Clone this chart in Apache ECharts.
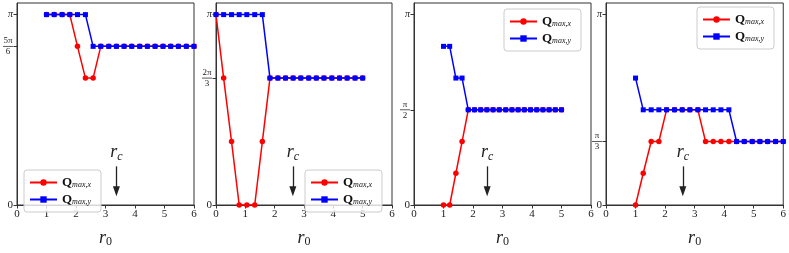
<!DOCTYPE html>
<html><head><meta charset="utf-8">
<script src="https://cdn.jsdelivr.net/npm/echarts@6/dist/echarts.min.js"></script>
<style>html,body{margin:0;padding:0;background:#fff}#c{width:789px;height:253px}</style>
</head><body><div id="c"></div>
<script>
// x samples (r0) for each panel
const xs1 = [1.00,1.26,1.53,1.79,2.05,2.32,2.58,2.84,3.11,3.37,3.63,3.89,4.16,4.42,4.68,4.95,5.21,5.47,5.74,6.00];
const xs2 = [0.00,0.26,0.53,0.79,1.05,1.32,1.58,1.84,2.11,2.37,2.63,2.89,3.16,3.42,3.68,3.95,4.21,4.47,4.74,5.00];
const xs3 = [1.00,1.21,1.42,1.63,1.84,2.05,2.26,2.47,2.68,2.89,3.11,3.32,3.53,3.74,3.95,4.16,4.37,4.58,4.79,5.00];
const xs4 = [1.00,1.26,1.53,1.79,2.05,2.32,2.58,2.84,3.11,3.37,3.63,3.89,4.16,4.42,4.68,4.95,5.21,5.47,5.74,6.00];
// values in units of pi
const qx1 = [1,1,1,1,0.8333,0.6667,0.6667,0.8333,0.8333,0.8333,0.8333,0.8333,0.8333,0.8333,0.8333,0.8333,0.8333,0.8333,0.8333,0.8333];
const qy1 = [1,1,1,1,1,1,0.8333,0.8333,0.8333,0.8333,0.8333,0.8333,0.8333,0.8333,0.8333,0.8333,0.8333,0.8333,0.8333,0.8333];
const qx2 = [1,0.6667,0.3333,0,0,0,0.3333,0.6667,0.6667,0.6667,0.6667,0.6667,0.6667,0.6667,0.6667,0.6667,0.6667,0.6667,0.6667,0.6667];
const qy2 = [1,1,1,1,1,1,1,0.6667,0.6667,0.6667,0.6667,0.6667,0.6667,0.6667,0.6667,0.6667,0.6667,0.6667,0.6667,0.6667];
const qx3 = [0,0,0.1667,0.3333,0.5,0.5,0.5,0.5,0.5,0.5,0.5,0.5,0.5,0.5,0.5,0.5,0.5,0.5,0.5,0.5];
const qy3 = [0.8333,0.8333,0.6667,0.6667,0.5,0.5,0.5,0.5,0.5,0.5,0.5,0.5,0.5,0.5,0.5,0.5,0.5,0.5,0.5,0.5];
const qx4 = [0,0.1667,0.3333,0.3333,0.5,0.5,0.5,0.5,0.5,0.3333,0.3333,0.3333,0.3333,0.3333,0.3333,0.3333,0.3333,0.3333,0.3333,0.3333];
const qy4 = [0.6667,0.5,0.5,0.5,0.5,0.5,0.5,0.5,0.5,0.5,0.5,0.5,0.5,0.3333,0.3333,0.3333,0.3333,0.3333,0.3333,0.3333];
// y tick values (units of pi) and labels
const yTickVals = [[0,0.8333,1],[0,0.6667,1],[0,0.5,1],[0,0.3333,1]];
const yTickLabels = [['0','5π/6','π'],['0','2π/3','π'],['0','π/2','π'],['0','π/3','π']];
const xTicks = [0,1,2,3,4,5,6];
// critical radius r_c per panel
const rc = [3.37, 2.62, 2.48, 2.60];
const seriesNames = ['Qx','Qy'];

const XS = [xs1,xs2,xs3,xs4];
const QX = [qx1,qx2,qx3,qx4];
const QY = [qy1,qy2,qy3,qy4];
const grids = [
  {left:17, top:3, width:177, height:214},
  {left:216, top:3, width:176, height:214},
  {left:414, top:3, width:177, height:214},
  {left:606, top:3, width:178, height:214}
];
const legendPos = [
  {left:24, top:170},
  {left:305, top:170},
  {left:504, top:9},
  {left:697, top:7}
];
const SERIF = "'Liberation Serif','DejaVu Serif',serif";
const frameColor = '#333';
const YMAX = 1.061;

const chart = echarts.init(document.getElementById('c'), null, {renderer:'canvas'});
const option = {
  backgroundColor:'#fff',
  animation:false,
  grid: grids.map(g => Object.assign({show:true, borderColor:frameColor, borderWidth:1, backgroundColor:'transparent'}, g)),
  xAxis: grids.map((g,i) => ({
    gridIndex:i, type:'value', min:0, max:6, interval:1,
    splitLine:{show:false},
    axisLine:{show:true, lineStyle:{color:frameColor, width:1}},
    axisTick:{show:true, length:3.5, lineStyle:{color:frameColor}},
    axisLabel:{color:'#222', fontFamily:SERIF, fontSize:11, margin:4, showMinLabel:true, showMaxLabel:true},
    name:'{r|r}{s|0}', nameLocation:'middle', nameGap:23,
    nameTextStyle:{rich:{
      r:{fontFamily:SERIF, fontStyle:'italic', fontSize:18, color:'#222'},
      s:{fontFamily:SERIF, fontSize:12, color:'#222', padding:[8,0,0,0]}
    }}
  })),
  yAxis: grids.map((g,i) => ({
    gridIndex:i, type:'value', min:0, max:YMAX,
    splitLine:{show:false},
    axisLine:{show:true, lineStyle:{color:frameColor, width:1}},
    axisTick:{show:true, length:3.5, customValues:yTickVals[i], lineStyle:{color:frameColor}},
    axisLabel:{
      customValues:yTickVals[i], margin:4, color:'#222', fontFamily:SERIF, fontSize:11,
      formatter:(v)=>{
        const k = yTickVals[i].indexOf(v);
        const lab = k>=0 ? yTickLabels[i][k] : '';
        if (lab.indexOf('/')>=0){
          const p = lab.split('/');
          return '{n|'+p[0]+'}\n{b| }\n{d|'+p[1]+'}';
        }
        if (lab==='π') return '{p|π}';
        return lab;
      },
      rich:{
        n:{fontFamily:SERIF, fontSize:9, lineHeight:9, align:'center', color:'#222'},
        b:{width:10, height:0.8, lineHeight:2, fontSize:2, backgroundColor:'#333', align:'center'},
        d:{fontFamily:SERIF, fontSize:9, lineHeight:9, align:'center', color:'#222'},
        p:{fontFamily:SERIF, fontStyle:'italic', fontSize:10, color:'#222'}
      }
    }
  })),
  legend: legendPos.map(p => ({
    data: seriesNames, orient:'vertical', left:p.left, top:p.top,
    itemWidth:27, itemHeight:8, itemGap:4,
    padding:[6,10,6,5],
    borderColor:'#ccc', borderWidth:1, borderRadius:3, backgroundColor:'rgba(255,255,255,0.8)',
    selectedMode:false,
    formatter:(n)=> n==='Qx' ? '{q|Q}{s|max,x}' : '{q|Q}{s|max,y}',
    textStyle:{lineHeight:12, rich:{
      q:{fontFamily:SERIF, fontWeight:'bold', fontSize:13, lineHeight:12, color:'#111'},
      s:{fontFamily:SERIF, fontStyle:'italic', fontSize:8, lineHeight:12, color:'#111', padding:[4,0,0,0]}
    }}
  })),
  series: []
};
for (let i=0;i<4;i++){
  option.series.push({
    name:'Qx', type:'line', xAxisIndex:i, yAxisIndex:i,
    data: XS[i].map((x,k)=>[x, QX[i][k]]),
    color:'#ff0000', lineStyle:{width:1.5, color:'#ff0000'},
    symbol:'circle', symbolSize:5.5, itemStyle:{color:'#ff0000'}, z:2
  });
  option.series.push({
    name:'Qy', type:'line', xAxisIndex:i, yAxisIndex:i,
    data: XS[i].map((x,k)=>[x, QY[i][k]]),
    color:'#0000ff', lineStyle:{width:1.5, color:'#0000ff'},
    symbol:'rect', symbolSize:5, itemStyle:{color:'#0000ff'}, z:3,
    markLine:{
      silent:true, symbol:['none','triangle'], symbolSize:[7,10],
      lineStyle:{color:'#222', width:1.3, type:'solid'},
      itemStyle:{color:'#000'},
      label:{show:true, position:'start', distance:4, formatter:'{r|r}{c|c}',
        rich:{
          r:{fontFamily:SERIF, fontStyle:'italic', fontSize:18, color:'#222'},
          c:{fontFamily:SERIF, fontStyle:'italic', fontSize:12, color:'#222', padding:[8,0,0,0]}
        }},
      data:[[{coord:[rc[i],0.203]},{coord:[rc[i],0.072]}]]
    }
  });
}
chart.setOption(option);
</script>
</body></html>
